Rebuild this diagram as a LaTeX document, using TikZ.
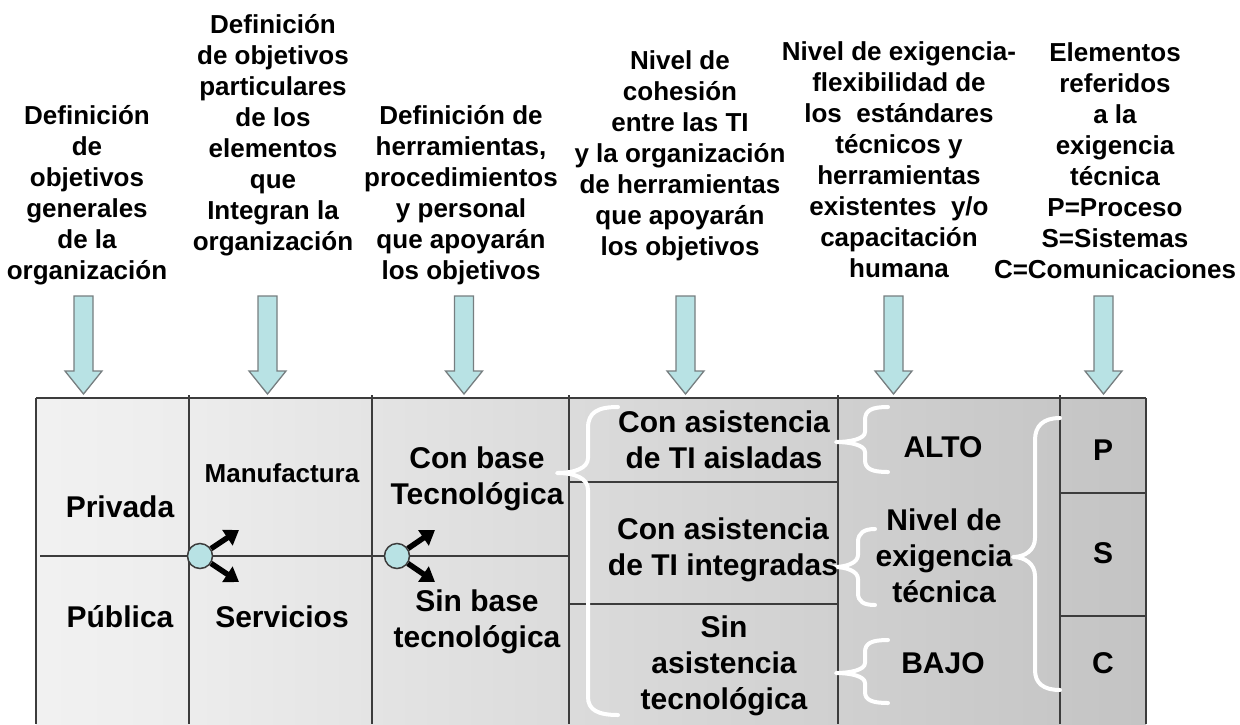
\documentclass[tikz,border=0pt]{standalone}
\usepackage{fontspec}
\setmainfont{Liberation Sans}
\usetikzlibrary{arrows.meta}
\definecolor{arrowfill}{RGB}{184,226,228}
\definecolor{arrowline}{RGB}{118,126,128}
\definecolor{gridcol}{RGB}{60,60,60}
\pgfdeclarehorizontalshading{tabshade}{100bp}{rgb(0bp)=(.992,.992,.992); rgb(13.8bp)=(.973,.973,.973); rgb(30.3bp)=(.933,.933,.933); rgb(48bp)=(.863,.863,.863); rgb(72.3bp)=(.776,.776,.776); rgb(92.3bp)=(.722,.722,.722); rgb(100bp)=(.706,.706,.706)}
\tikzset{
  hdr/.style={font=\fontsize{26}{31}\selectfont\bfseries, align=center, inner sep=0pt},
  tbl/.style={font=\fontsize{30}{36}\selectfont\bfseries, align=center, inner sep=0pt},
  tblsmall/.style={font=\fontsize{26}{31}\selectfont\bfseries, align=center, inner sep=0pt},
  gridln/.style={draw=gridcol, line width=1.5pt},
  blockarr/.style={fill=arrowfill, draw=arrowline, line width=1.3pt, line join=miter},
  bracecurve/.style={draw=white, line width=4pt, line cap=round, line join=round},
  circ/.style={circle, minimum size=25pt, inner sep=0pt, fill=arrowfill, draw=gridcol, line width=1.5pt},
  blkarrow/.style={draw=black, line width=5.5pt, -{Triangle[length=14pt,width=18pt]}},
  downarrow/.pic={\path[blockarr] (-9.5,0) -- (9.5,0) -- (9.5,75) -- (18.5,75) -- (0,98) -- (-18.5,75) -- (-9.5,75) -- cycle;}
}
\begin{document}
\begin{tikzpicture}[x=1pt,y=-1pt]
\useasboundingbox[fill=white] (0,0) rectangle (1240,724);

% header texts
\node[hdr] (h1) at (87,195.5) {Definición\\de\\objetivos\\generales\\de la\\organización};
\node[hdr] (h2) at (273,135.5) {Definición\\de objetivos\\particulares\\de los\\elementos\\que\\Integran la\\organización};
\node[hdr] (h3) at (461,195) {Definición de\\herramientas,\\procedimientos\\y personal\\que apoyarán\\los objetivos};
\node[hdr] (h4) at (680,155.5) {Nivel de\\cohesión\\entre las TI\\y la organización\\de herramientas\\que apoyarán\\los objetivos};
\node[hdr] (h5) at (899,160) {Nivel de exigencia-\\flexibilidad de\\los~~estándares\\técnicos y\\herramientas\\existentes~~y/o\\capacitación\\humana};
\node[hdr] (h6) at (1115,161) {Elementos\\referidos\\a la\\exigencia\\técnica\\P=Proceso\\S=Sistemas\\C=Comunicaciones};

% block arrows
\foreach \ax in {83.5,267.5,464,685.5,893.5,1103.5}{
  \pic at (\ax,296) {downarrow};
}

% table background
\fill[shading=tabshade] (36,398) rectangle (1146,724);

% grid lines
\draw[gridln] (36,398) -- (1146,398);
\draw[gridln] (36,398) -- (36,724);
\draw[gridln] (1146,398) -- (1146,724);
\foreach \cx in {189,372,569,838,1060}{
  \draw[gridln] (\cx,395) -- (\cx,724);
}
\draw[gridln] (40,556) -- (569,556);
\draw[gridln] (569,482) -- (838,482);
\draw[gridln] (569,604) -- (838,604);
\draw[gridln] (1060,493) -- (1146,493);
\draw[gridln] (1060,616) -- (1146,616);

% white braces
\draw[bracecurve] (618,407) .. controls (598,407) and (588,412) .. (588,428) -- (588,458)
  .. controls (588,468) and (575,473) .. (557,473)
  .. controls (575,473) and (588,478) .. (588,490) -- (588,697)
  .. controls (588,710) and (598,715) .. (618,715);
\draw[bracecurve] (888,407) .. controls (872,407) and (865,410) .. (865,420) -- (865,432)
  .. controls (865,439) and (850,442) .. (836,442)
  .. controls (850,442) and (865,445) .. (865,452) -- (865,460)
  .. controls (865,469) and (872,472) .. (888,472);
\draw[bracecurve] (875,529) .. controls (864,529) and (858,533) .. (858,542) -- (858,555)
  .. controls (858,563) and (846,567) .. (834,567)
  .. controls (846,567) and (858,571) .. (858,579) -- (858,593)
  .. controls (858,602) and (864,605) .. (875,605);
\draw[bracecurve] (888,640) .. controls (872,640) and (865,643) .. (865,652) -- (865,663)
  .. controls (865,670) and (850,673) .. (836,673)
  .. controls (850,673) and (865,676) .. (865,683) -- (865,692)
  .. controls (865,700) and (872,703) .. (888,703);
\draw[bracecurve] (1060,418) .. controls (1043,418) and (1035,426) .. (1035,440) -- (1035,538)
  .. controls (1035,550) and (1025,557) .. (1013,557)
  .. controls (1025,557) and (1035,564) .. (1035,576) -- (1035,670)
  .. controls (1035,683) and (1043,690) .. (1060,690);

% table texts
\node[tbl] (privada) at (120,507) {Privada};
\node[tbl] (publica) at (120,617) {Pública};
\node[tblsmall] (manuf) at (282,473) {Manufactura};
\node[tbl] (serv) at (282,617) {Servicios};
\node[tbl] (conbase) at (477,478.5) {Con base\\Tecnológica};
\node[tbl] (sinbase) at (477,621.5) {Sin base\\tecnológica};
\node[tbl] (cta) at (724,440) {Con asistencia\\de TI aisladas};
\node[tbl] (cti) at (723,549.5) {Con asistencia\\de TI integradas};
\node[tbl] (sat) at (724,666) {Sin\\asistencia\\tecnológica};
\node[tbl] (alto) at (943,447) {ALTO};
\node[tbl] (nivel) at (944,556) {Nivel de\\exigencia\\técnica};
\node[tbl] (bajo) at (943,663) {BAJO};
\node[tbl] (p) at (1103,450) {P};
\node[tbl] (s) at (1103,553) {S};
\node[tbl] (c) at (1103,663) {C};

% circles with split arrows
\node[circ] (k1) at (200,556) {};
\node[circ] (k2) at (397,556) {};
\coordinate (k1u) at (239,530);
\coordinate (k1d) at (239,582);
\coordinate (k2u) at (435,530);
\coordinate (k2d) at (435,582);
\draw[blkarrow] (k1) -- (k1u);
\draw[blkarrow] (k1) -- (k1d);
\draw[blkarrow] (k2) -- (k2u);
\draw[blkarrow] (k2) -- (k2d);
\end{tikzpicture}
\end{document}
